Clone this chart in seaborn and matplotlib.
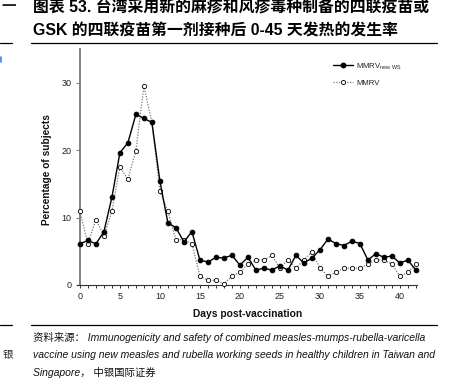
import numpy as np
import pandas as pd
import matplotlib
matplotlib.use("Agg")
import matplotlib.pyplot as plt
import seaborn as sns
from matplotlib.ticker import MultipleLocator
from matplotlib.lines import Line2D

sns.set_theme(style="white")
plt.rcParams['font.family'] = ['Liberation Sans', 'Noto Sans CJK SC', 'DejaVu Sans']
plt.rcParams['mathtext.fontset'] = 'custom'
plt.rcParams['mathtext.rm'] = 'Liberation Sans'

days = list(range(0, 43))
mmrv_new_ws = [6.1, 6.6, 6.1, 7.9, 13.0, 19.6, 21.1, 25.3, 24.7, 24.1,
               15.4, 9.2, 8.5, 6.4, 7.9, 3.7, 3.4, 4.1, 4.0, 4.4,
               2.95, 4.1, 2.2, 2.5, 2.2, 2.85, 2.2, 4.4, 3.25, 4.0,
               5.2, 6.8, 6.15, 5.85, 6.5, 6.15, 3.7, 4.65, 4.1, 4.3,
               3.25, 3.7, 2.2]
mmrv = [10.9, 6.15, 9.7, 7.3, 10.9, 17.5, 15.7, 19.9, 29.5, 24.1,
        13.9, 10.9, 6.7, 6.7, 6.15, 1.3, 0.7, 0.7, 0.15, 1.3,
        1.9, 3.1, 3.7, 3.7, 4.4, 2.5, 3.7, 2.5, 3.7, 4.9,
        2.5, 1.3, 1.9, 2.5, 2.5, 2.5, 3.1, 3.7, 3.7, 3.1,
        1.3, 1.9, 3.1]
series_labels = ["MMRV$_{\\mathregular{new\\ WS}}$", "MMRV"]
x_ticks = [0, 5, 10, 15, 20, 25, 30, 35, 40]
y_ticks = [0, 10, 20, 30]

title_lines = ["图表 53. 台湾采用新的麻疹和风疹毒种制备的四联疫苗或",
               "GSK 的四联疫苗第一剂接种后 0-45 天发热的发生率"]
source_lines = ["资料来源： Immunogenicity and safety of combined measles-mumps-rubella-varicella",
                "vaccine using new measles and rubella working seeds in healthy children in Taiwan and",
                "Singapore， 中银国际证券"]

W, H = 461, 380
fig = plt.figure(figsize=(W / 100, H / 100), dpi=100)
fig.patch.set_facecolor('white')
ax = fig.add_axes([76.7 / W, 95 / H, 340 / W, 236.1 / H])
ax.set_facecolor('white')

df = pd.DataFrame({"day": days, "new": mmrv_new_ws, "old": mmrv})

sns.lineplot(data=df, x="day", y="old", ax=ax, color="#7a7a7a", linestyle=(0, (1, 1.2)),
             linewidth=0.9, marker=None, clip_on=False, zorder=2)
sns.lineplot(data=df, x="day", y="old", ax=ax, linestyle="none", marker="o",
             markersize=3.1, markerfacecolor="white", markeredgecolor="black",
             markeredgewidth=0.6, clip_on=False, zorder=3)
sns.lineplot(data=df, x="day", y="new", ax=ax, color="black", linewidth=1.0,
             marker="o", markersize=3.3, markerfacecolor="black", markeredgecolor="black",
             clip_on=False, zorder=4)

ax.set_xlim(-0.4, 42.1)
ax.set_ylim(0, 35)
ax.spines['top'].set_visible(False)
ax.spines['right'].set_visible(False)
ax.spines['left'].set_position(('data', 0))
ax.spines['left'].set_color('#808080')
ax.spines['left'].set_linewidth(1.4)
ax.spines['bottom'].set_color('#333333')
ax.spines['bottom'].set_linewidth(0.8)
ax.grid(False)

ax.set_xticks(x_ticks)
ax.xaxis.set_minor_locator(MultipleLocator(1))
ax.set_yticks(y_ticks)
ax.tick_params(axis='x', which='both', direction='out', length=2.2, width=0.7,
               color='#333333', bottom=True, labelsize=6.5, pad=3, labelcolor='#222222')
ax.tick_params(axis='y', which='major', direction='out', length=3, width=0.8,
               color='#808080', left=True, labelsize=6.5, pad=3, labelcolor='#222222')

ax.set_xlabel("Days post-vaccination", fontsize=7.4, fontweight='bold', color='#111111')
ax.xaxis.set_label_coords((248 - 76.7) / 340, -0.103)
ax.set_ylabel("Percentage of subjects", fontsize=7.3, fontweight='bold', color='#111111')
ax.yaxis.set_label_coords(-0.072, 0.49)

handles = [Line2D([], [], color='black', lw=1.0, marker='o', markersize=3.2,
                  markerfacecolor='black'),
           Line2D([], [], color='#7a7a7a', lw=0.9, linestyle=(0, (1, 1.2)), marker='o',
                  markersize=3.0, markerfacecolor='white', markeredgecolor='black',
                  markeredgewidth=0.6)]
leg = ax.legend(handles, series_labels, loc='upper left',
                bbox_to_anchor=(333 / W, 1 - 61 / H), bbox_transform=fig.transFigure,
                frameon=False, fontsize=5.6, handlelength=2.6, handletextpad=0.4,
                labelspacing=1.0, borderpad=0, borderaxespad=0)
for t in leg.get_texts():
    t.set_color('#222222')

# Title
fig.text(33 / W, 1 - 8 / H, title_lines[0], fontsize=11.4, fontweight='bold',
         ha='left', va='center', color='black')
fig.text(33 / W, 1 - 31 / H, title_lines[1], fontsize=11.4, fontweight='bold',
         ha='left', va='center', color='black')
fig.add_artist(Line2D([31 / W, 437 / W], [1 - 43 / H, 1 - 43 / H], color='black', lw=0.9))
fig.add_artist(Line2D([31 / W, 437 / W], [1 - 325 / H, 1 - 325 / H], color='black', lw=0.9))

# Fragments of neighbouring column
fig.text(1 / W, 1 - 7 / H, "一", fontsize=10.5, fontweight='bold', ha='left', va='center')
fig.add_artist(Line2D([0, 12 / W], [1 - 43 / H, 1 - 43 / H], color='black', lw=0.9))
fig.add_artist(Line2D([0, 12 / W], [1 - 325 / H, 1 - 325 / H], color='black', lw=0.9))
fig.add_artist(Line2D([0.5 / W, 0.5 / W], [1 - 57 / H, 1 - 62 / H], color='#3b82f6', lw=1.2))
fig.text(3 / W, 1 - 355 / H, "银", fontsize=7.5, style='italic', ha='left', va='center',
         color='#222222')

# Source
for i, line in enumerate(source_lines):
    fig.text(33 / W, 1 - (337 + 18 * i) / H, line, fontsize=7.5, style='italic',
             ha='left', va='center', color='#111111')

fig.savefig("out.png", dpi=100, facecolor='white')
